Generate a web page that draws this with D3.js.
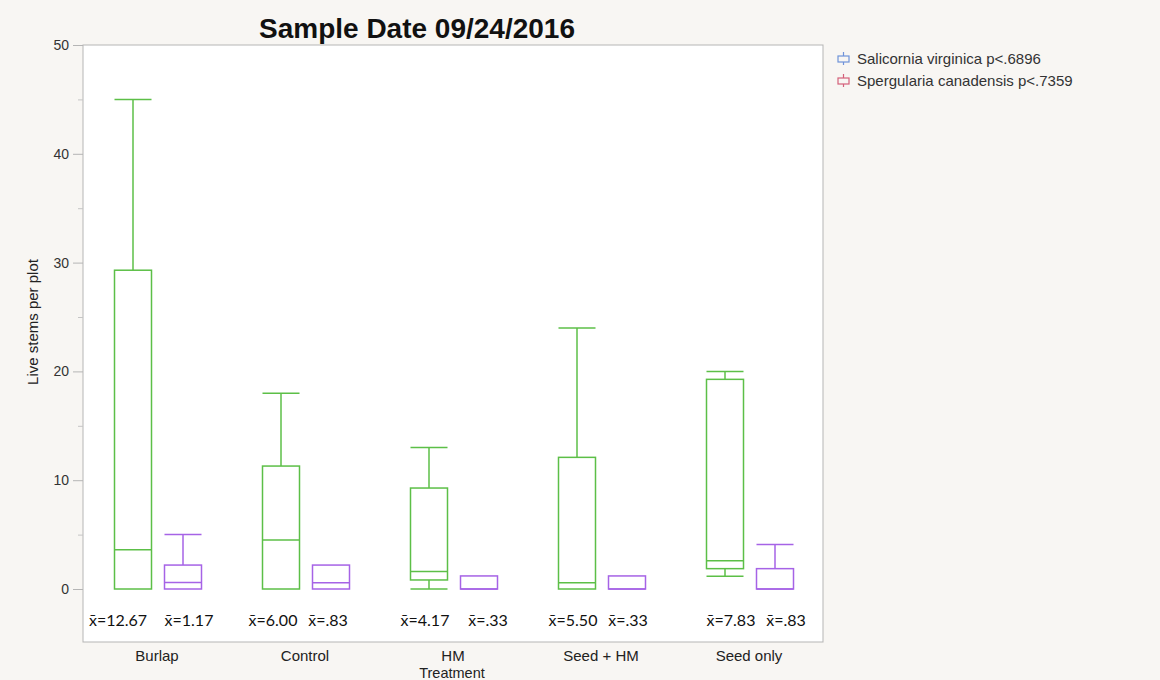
<!DOCTYPE html>
<html>
<head>
<meta charset="utf-8">
<script src="https://cdn.jsdelivr.net/npm/d3@7"></script>
<style>
  html, body { margin: 0; padding: 0; background: #f8f6f3; }
  svg { display: block; }
</style>
</head>
<body>
<svg id="chart" width="1160" height="680"></svg>
<script>
// ---- Data ----
const categories = ["Burlap", "Control", "HM", "Seed + HM", "Seed only"];
const seriesNames = ["Salicornia virginica p<.6896", "Spergularia canadensis p<.7359"];

// Salicornia virginica (drawn green)
const salMin    = [0, 0, 0, 0, 1.17];
const salQ1     = [0, 0, 0.83, 0, 1.87];
const salMedian = [3.6, 4.5, 1.6, 0.58, 2.6];
const salQ3     = [29.3, 11.3, 9.28, 12.1, 19.27];
const salMax    = [45, 18, 13, 24, 20];
const salMean   = ["x\u0304=12.67", "x\u0304=6.00", "x\u0304=4.17", "x\u0304=5.50", "x\u0304=7.83"];

// Spergularia canadensis (drawn purple)
const speMin    = [0, 0, 0, 0, 0];
const speQ1     = [0, 0, 0, 0, 0];
const speMedian = [0.6, 0.58, 0, 0, 0];
const speQ3     = [2.2, 2.2, 1.2, 1.2, 1.87];
const speMax    = [5, 2.2, 1.2, 1.2, 4.1];
const speMean   = ["x\u0304=1.17", "x\u0304=.83", "x\u0304=.33", "x\u0304=.33", "x\u0304=.83"];

const yMajorTicks = [0, 10, 20, 30, 40, 50];
const yMinorTicks = [5, 15, 25, 35, 45];

// ---- Layout constants ----
const svg = d3.select("#chart");
const pLeft = 83, pRight = 823, pTop = 45, pBottom = 642;
// hand-placed annotation nudges (as in the source figure)
const meanLabelDx = [[-15, -8, -4, -4, 6], [6, -3, 9, 1, 11]];

const x = d3.scaleBand().domain(categories).range([pLeft, pRight]).padding(0);
const y = d3.scaleLinear().domain([0, 50]).range([589, pTop]);
const sub = d3.scalePoint().domain([0, 1]).range([0, x.bandwidth()]).padding(0.98);

const boxW = 37;
const colors = ["#5cbf47", "#a663e6"];
const legendColors = ["#6f93d9", "#d4607a"];
const font = "Liberation Sans, Arial, sans-serif";

// plot background
svg.append("rect").attr("x", pLeft).attr("y", pTop).attr("width", pRight - pLeft).attr("height", pBottom - pTop)
  .attr("fill", "#ffffff").attr("stroke", "#b5b5b5").attr("stroke-width", 1);

// title
svg.append("text").attr("x", 417).attr("y", 38).attr("text-anchor", "middle")
  .attr("font-family", font).attr("font-weight", "bold")
  .attr("font-size", 28).attr("fill", "#111").text("Sample Date 09/24/2016");

// y axis
const yAxis = d3.axisLeft(y).tickValues(yMajorTicks).tickSize(10).tickPadding(4).tickFormat(d3.format("d"));
const gy = svg.append("g").attr("transform", `translate(${pLeft},0)`).call(yAxis);
gy.select(".domain").remove();
gy.selectAll(".tick line").attr("stroke", "#b5b5b5");
gy.selectAll(".tick text").attr("font-family", font).attr("font-size", 14).attr("fill", "#333");
const yMinor = d3.axisLeft(y).tickValues(yMinorTicks).tickSize(5).tickFormat("");
const gym = svg.append("g").attr("transform", `translate(${pLeft},0)`).call(yMinor);
gym.select(".domain").remove();
gym.selectAll(".tick line").attr("stroke", "#c5c5c5");

svg.append("text").attr("transform", `translate(38,322) rotate(-90)`)
  .attr("text-anchor", "middle").attr("font-family", font)
  .attr("font-size", 15).attr("fill", "#222").text("Live stems per plot");

// x axis labels
const xAxis = d3.axisBottom(x).tickSize(0).tickPadding(8);
const gx = svg.append("g").attr("transform", `translate(0,${pBottom})`).call(xAxis);
gx.select(".domain").remove();
gx.selectAll(".tick text").attr("font-family", font).attr("font-size", 15).attr("fill", "#222");
svg.append("text").attr("x", 452).attr("y", 678).attr("text-anchor", "middle")
  .attr("font-family", font).attr("font-size", 14.5).attr("fill", "#222").text("Treatment");

// boxes
const series = [
  { min: salMin, q1: salQ1, med: salMedian, q3: salQ3, max: salMax, mean: salMean },
  { min: speMin, q1: speQ1, med: speMedian, q3: speQ3, max: speMax, mean: speMean }
];

series.forEach((s, si) => {
  const g = svg.append("g").attr("fill", "none").attr("stroke", colors[si]).attr("stroke-width", 1.5);
  categories.forEach((c, i) => {
    const cx = x(c) + sub(si) + 1;
    const x0 = cx - boxW / 2, x1 = cx + boxW / 2;
    if (s.max[i] > s.q3[i]) {
      g.append("line").attr("x1", cx).attr("x2", cx).attr("y1", y(s.q3[i])).attr("y2", y(s.max[i]));
      g.append("line").attr("x1", x0).attr("x2", x1).attr("y1", y(s.max[i])).attr("y2", y(s.max[i]));
    }
    if (s.min[i] < s.q1[i]) {
      g.append("line").attr("x1", cx).attr("x2", cx).attr("y1", y(s.q1[i])).attr("y2", y(s.min[i]));
      g.append("line").attr("x1", x0).attr("x2", x1).attr("y1", y(s.min[i])).attr("y2", y(s.min[i]));
    }
    g.append("rect").attr("x", x0).attr("y", y(s.q3[i])).attr("width", boxW)
      .attr("height", Math.max(0, y(s.q1[i]) - y(s.q3[i])));
    g.append("line").attr("x1", x0).attr("x2", x1).attr("y1", y(s.med[i])).attr("y2", y(s.med[i]));
    svg.append("text").attr("x", cx + meanLabelDx[si][i]).attr("y", 626).attr("text-anchor", "middle")
      .attr("font-family", "Lato, 'Open Sans', sans-serif").attr("font-size", 16).attr("fill", "#111")
      .text(s.mean[i]);
  });
});

// legend
seriesNames.forEach((name, i) => {
  const ly = 59 + i * 22;
  const g = svg.append("g").attr("stroke", legendColors[i]).attr("fill", "none").attr("stroke-width", 1.2);
  g.append("rect").attr("x", 838).attr("y", ly - 3).attr("width", 11).attr("height", 6);
  g.append("line").attr("x1", 843.5).attr("x2", 843.5).attr("y1", ly - 7).attr("y2", ly - 3);
  g.append("line").attr("x1", 843.5).attr("x2", 843.5).attr("y1", ly + 3).attr("y2", ly + 6);
  svg.append("text").attr("x", 857).attr("y", ly + 5).attr("font-family", font)
    .attr("font-size", 15).attr("fill", "#333").text(name);
});
</script>
</body>
</html>
